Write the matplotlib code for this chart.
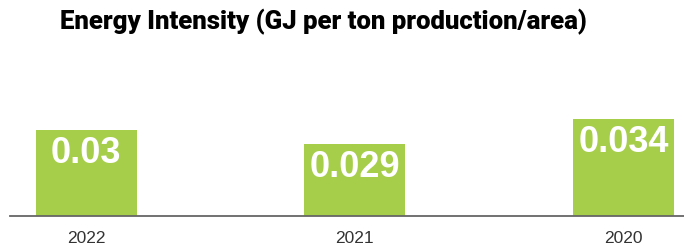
import matplotlib
matplotlib.use("Agg")
import matplotlib.pyplot as plt

# data
years = ["2022", "2021", "2020"]
bar_values = [0.0301, 0.0252, 0.034]
value_labels = ["0.03", "0.029", "0.034"]

bar_color = "#a7ce4b"
title = "Energy Intensity (GJ per ton production/area)"

fig = plt.figure(figsize=(6.84, 2.5), dpi=100)
ax = fig.add_axes([10 / 684, 34.3 / 250, 674 / 684, 113.8 / 250])

x = list(range(len(years)))
bars = ax.bar(x, bar_values, width=0.376, color=bar_color, zorder=2)

for rect, lab in zip(bars, value_labels):
    ax.annotate(
        lab,
        xy=(rect.get_x() + rect.get_width() / 2, rect.get_height()),
        xytext=(0, -17),
        textcoords="offset points",
        ha="center",
        va="center",
        color="white",
        fontsize=26,
        fontweight="bold",
        family="Liberation Sans",
    )

ax.set_xlim(-0.283, 2.225)
ax.set_ylim(0, 0.04)
ax.set_xticks(x)
ax.set_xticklabels(years, fontsize=12.5, color="#333333", family="Liberation Sans")
ax.tick_params(axis="x", length=0, pad=11)
ax.set_yticks([])
for s in ["top", "right", "left"]:
    ax.spines[s].set_visible(False)
ax.spines["bottom"].set_color("#666666")
ax.spines["bottom"].set_linewidth(1.3)

fig.text(60 / 684, 1 - 29.3 / 250, title, fontsize=18.5, fontweight=900,
         family="Roboto", ha="left", va="baseline", color="black")

fig.savefig("out.png", dpi=100)
